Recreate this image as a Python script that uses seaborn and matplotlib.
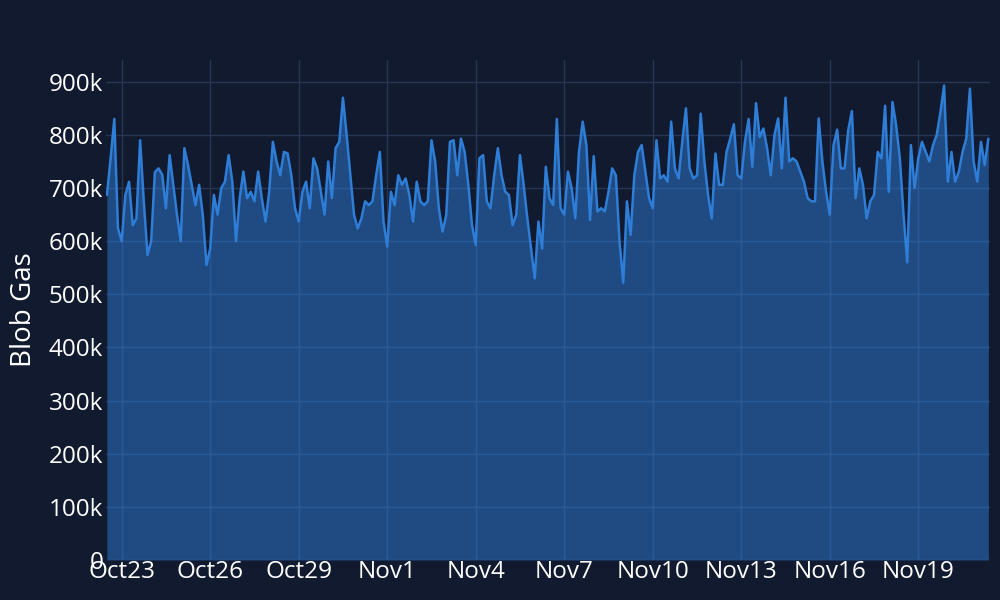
import pandas as pd
import matplotlib.pyplot as plt
import matplotlib.dates as mdates
import seaborn as sns

# blob gas readings, one every 3 hours, starting Oct 22 12:00
start = "2023-10-22 12:00"
blob_gas_k = [
    687, 756, 830, 624, 600, 687, 712, 630, 643, 790, 675, 574, 600, 730, 737, 725,
    662, 762, 706, 650, 600, 775, 743,
    706, 668, 706, 649, 555, 586, 687, 650, 700, 712, 762, 712, 600, 681, 731, 681,
    693, 675, 731, 681, 637, 693, 787,
    750, 724, 768, 765, 724, 662, 637, 693, 712, 662, 756, 737, 693, 650, 750, 681,
    775, 787, 870, 800, 724, 650, 624,
    643, 675, 668, 675, 724, 768, 637, 590, 693, 668, 724, 706, 718, 687, 637, 712,
    675, 668, 675, 790, 750, 662, 618,
    649, 787, 790, 724, 793, 768, 706, 630, 593, 756, 762, 675, 662, 724, 775, 724,
    693, 687, 630, 650, 762, 706, 643,
    586, 530, 637, 586, 740, 681, 668, 830, 662, 650, 731, 700, 643, 768, 825, 781,
    640, 760, 656, 662, 656, 693, 737,
    724, 599, 522, 675, 612, 724, 768, 781, 731, 681, 662, 790, 718, 724, 712, 825,
    737, 718, 787, 850, 737, 718, 724,
    840, 750, 687, 643, 765, 706, 706, 768, 793, 820, 724, 718, 787, 830, 740, 860,
    796, 812, 775, 724, 800, 831, 737,
    870, 750, 756, 750, 731, 712, 681, 675, 675, 831, 750, 693, 650, 780, 810, 737,
    737, 809, 845, 681, 737, 706, 643, 675,
    687, 768, 756, 855, 693, 862, 818, 756, 650, 560, 781, 700, 756, 787, 768, 750,
    781, 800, 843, 893, 712, 768,
    712, 731, 768, 793, 887, 750, 712, 787, 743, 793,
]

times = pd.date_range(start, periods=len(blob_gas_k), freq="3h")
df = pd.DataFrame({"time": times, "blob_gas": [v * 1000 for v in blob_gas_k]})

bg = "#111a2e"
line_color = "#2e7dd7"
grid_color = "#283553"

sns.set_theme(style="dark")
plt.rcParams["font.family"] = ["Open Sans", "DejaVu Sans"]

fig = plt.figure(figsize=(10, 6), dpi=100, facecolor=bg)
ax = fig.add_axes([0.106, 0.0667, 0.884, 0.8333])
ax.set_facecolor(bg)

ax.fill_between(df["time"], df["blob_gas"], 0, color=line_color, alpha=0.5, lw=0, zorder=2)
sns.lineplot(data=df, x="time", y="blob_gas", color=line_color, lw=1.8, ax=ax, zorder=3)

ax.set_xlim(pd.Timestamp("2023-10-22 11:15"), pd.Timestamp("2023-11-21 10:20"))
ax.set_ylim(0, 941000)

ax.yaxis.set_major_locator(plt.MultipleLocator(100000))
ax.yaxis.set_major_formatter(plt.FuncFormatter(lambda v, p: "0" if v == 0 else f"{int(v / 1000)}k"))
ax.xaxis.set_major_locator(mdates.DayLocator(bymonthday=[1, 4, 7, 10, 13, 16, 19, 23, 26, 29]))
ax.xaxis.set_major_formatter(plt.FuncFormatter(
    lambda v, p: f"{mdates.num2date(v):%b}{mdates.num2date(v).day}"))

ax.grid(True, color=grid_color, lw=1, zorder=0)
ax.set_axisbelow(True)
for s in ax.spines.values():
    s.set_visible(False)

ax.tick_params(axis="both", colors="white", labelsize=17.5, length=0)
ax.tick_params(axis="y", pad=2)
ax.tick_params(axis="x", pad=0)
ax.set_xlabel("")
ax.set_ylabel("Blob Gas", color="white", fontsize=20, labelpad=8)

fig.savefig("out.png", dpi=100, facecolor=bg)
